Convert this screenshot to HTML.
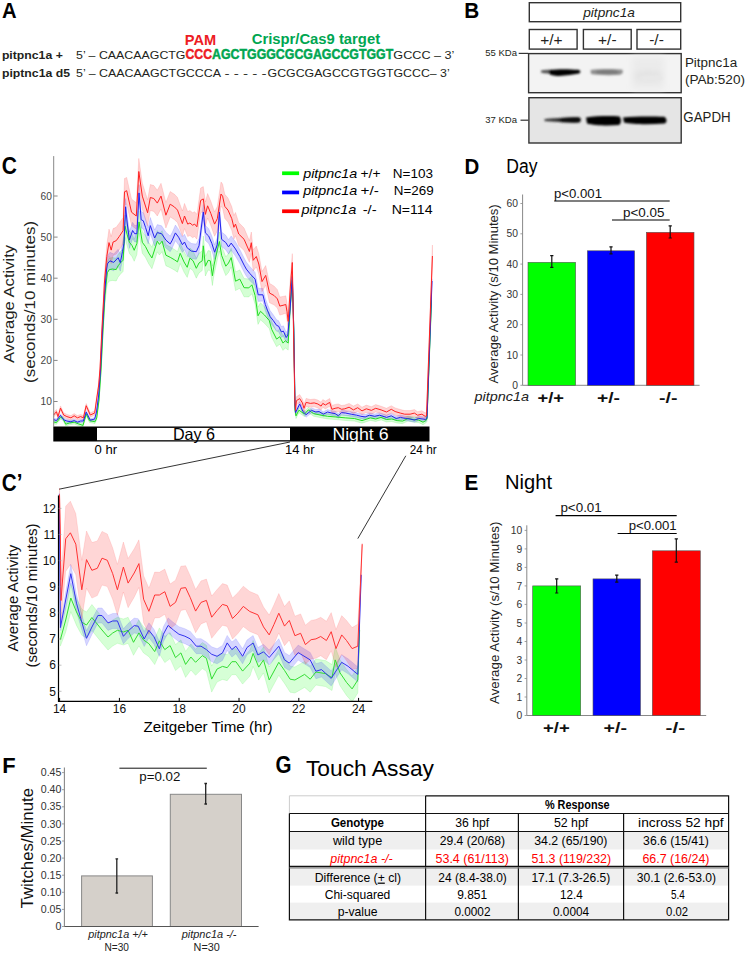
<!DOCTYPE html>
<html><head><meta charset="utf-8">
<style>
html,body{margin:0;padding:0;background:#fff;}
body{width:745px;height:955px;overflow:hidden;position:relative;}
svg{position:absolute;left:0;top:0;}
text{font-family:"Liberation Sans",sans-serif;}
</style></head><body>
<svg width="745" height="955" viewBox="0 0 745 955">
<defs>
<filter id="blur1" x="-20%" y="-100%" width="140%" height="300%"><feGaussianBlur stdDeviation="1.1"/></filter>
<filter id="blur3" x="-50%" y="-50%" width="200%" height="200%"><feGaussianBlur stdDeviation="3"/></filter>
<filter id="blur2" x="-20%" y="-100%" width="140%" height="300%"><feGaussianBlur stdDeviation="1.25"/></filter>
</defs>
<text x="2.1" y="17.7" font-size="21.80" fill="#000" font-weight="bold" textLength="14.6" lengthAdjust="spacingAndGlyphs">A</text>
<text x="184.8" y="44.9" font-size="15.00" fill="#ed1c24" font-weight="bold" textLength="31.4" lengthAdjust="spacingAndGlyphs">PAM</text>
<text x="251.7" y="43.5" font-size="14.00" fill="#00a651" font-weight="bold" textLength="128.4" lengthAdjust="spacingAndGlyphs">Crispr/Cas9 target</text>
<text x="1.9" y="58.5" font-size="11.50" fill="#231f20" font-weight="bold" textLength="60.9" lengthAdjust="spacingAndGlyphs">pitpnc1a +</text>
<text x="76.0" y="58.7" font-size="11.30" fill="#231f20" textLength="109.5" lengthAdjust="spacingAndGlyphs">5’ – CAACAAGCTG</text>
<text x="185.5" y="58.9" font-size="13.80" fill="#ed1c24" font-weight="bold" textLength="26.5" lengthAdjust="spacingAndGlyphs" stroke="#ed1c24" stroke-width="0.45">CCC</text>
<text x="212.0" y="58.9" font-size="13.80" fill="#00a651" font-weight="bold" textLength="181.3" lengthAdjust="spacingAndGlyphs" stroke="#00a651" stroke-width="0.45">AGCTGGGCGCGAGCCGTGGT</text>
<text x="393.3" y="58.7" font-size="11.30" fill="#231f20" textLength="61.1" lengthAdjust="spacingAndGlyphs">GCCC – 3’</text>
<text x="1.9" y="76.5" font-size="11.50" fill="#231f20" font-weight="bold" textLength="68.1" lengthAdjust="spacingAndGlyphs">piptnc1a d5</text>
<text x="76.0" y="76.6" font-size="11.30" fill="#231f20" textLength="145.0" lengthAdjust="spacingAndGlyphs">5’ – CAACAAGCTGCCCA</text>
<text x="224.4" y="76.6" font-size="11.30" fill="#231f20" textLength="42.3" lengthAdjust="spacingAndGlyphs">- - - - -</text>
<text x="267.6" y="76.6" font-size="11.30" fill="#231f20" textLength="182.1" lengthAdjust="spacingAndGlyphs">GCGCGAGCCGTGGTGCCC– 3’</text>
<text x="464.2" y="17.8" font-size="21.60" fill="#000" font-weight="bold" textLength="15.0" lengthAdjust="spacingAndGlyphs">B</text>
<g fill="#fff" stroke="#333" stroke-width="1.4">
<rect x="529.3" y="2.7" width="151.4" height="19"/>
<rect x="529.3" y="29.5" width="47.8" height="19.6"/>
<rect x="583.4" y="29.5" width="47.8" height="19.6"/>
<rect x="637" y="29.5" width="43.7" height="19.6"/>
</g>
<text x="583.2" y="16.8" font-size="13.50" fill="#231f20" font-style="italic" textLength="51.7" lengthAdjust="spacingAndGlyphs">pitpnc1a</text>
<text x="551.4" y="44.7" font-size="15.50" fill="#231f20" text-anchor="middle">+/+</text>
<text x="607.3" y="44.7" font-size="15.50" fill="#231f20" text-anchor="middle">+/-</text>
<text x="656.5" y="44.7" font-size="15.50" fill="#231f20" text-anchor="middle">-/-</text>
<rect x="528.6" y="53.6" width="152.6" height="39.1" fill="#f3f3f3" stroke="#333" stroke-width="1.4"/>
<g filter="url(#blur3)"><rect x="632" y="57" width="32" height="32" fill="#ebebeb"/><ellipse cx="648" cy="76" rx="15" ry="5" fill="#e2e2e2"/></g>
<g filter="url(#blur1)">
<path d="M541,70.5 C545,69.5 549,69.5 552,70 L552,73.5 C548,73.8 544,73.5 541,72.5Z" fill="#555"/>
<path d="M549,70 C558,68.8 570,69 578,69.8 C581,70.5 581,72.5 579,73.5 C573,74.5 566,75.5 559,76 C554,76 550,75 549,73.5Z" fill="#000"/>
<path d="M590.5,70 C600,68.6 614,68.6 622,69.6 C623.5,71.5 623,74 620,74.8 C610,75.4 598,75.2 591,74Z" fill="#8f8f8f"/>
<path d="M596,70.8 C604,70.2 612,70.2 618,70.8 L618,73.6 C610,74 603,74 596,73.6Z" fill="#7a7a7a"/>
<ellipse cx="651" cy="78" rx="12" ry="3" fill="#e8e8e8"/>
</g>
<line x1="518.7" y1="53.4" x2="528" y2="53.4" stroke="#333" stroke-width="1.2"/>
<text x="517.0" y="56.3" font-size="9.50" fill="#231f20" text-anchor="end">55 KDa</text>
<rect x="528.9" y="97.7" width="152.3" height="45.3" fill="#e5e5e5" stroke="#333" stroke-width="1.4"/>
<g filter="url(#blur2)">
<path d="M544.5,119.2 C552,118.5 565,117.3 578,117.3 C581.5,118 581.5,121.5 579,122.6 C568,123 555,121.8 544.5,121Z" fill="#333"/>
<path d="M560,118.3 C568,117.5 575,117.2 579,117.3 C581.5,118 581.5,121.5 579,122.6 C572,122.8 565,122.3 560,122Z" fill="#111"/>
<path d="M586,117.5 C597,115.8 612,115.8 619.5,116.5 C621.5,119 621.5,123 619,125 C608,126 594,125.5 587,123.5Z" fill="#000"/>
<path d="M623,117.5 C635,116.2 652,116.3 664,116.8 C667,118 667.5,122.5 664.5,123.5 C650,124.5 633,124.5 624,122.5Z" fill="#000"/>
</g>
<line x1="520.5" y1="120.2" x2="528.4" y2="120.2" stroke="#333" stroke-width="1.2"/>
<text x="517.0" y="122.9" font-size="9.50" fill="#231f20" text-anchor="end">37 KDa</text>
<text x="684.9" y="66.8" font-size="13.70" fill="#231f20" textLength="52.3" lengthAdjust="spacingAndGlyphs">Pitpnc1a</text>
<text x="684.9" y="83.8" font-size="13.70" fill="#231f20" textLength="60.1" lengthAdjust="spacingAndGlyphs">(PAb:520)</text>
<text x="683.3" y="122.0" font-size="13.80" fill="#231f20" textLength="47.3" lengthAdjust="spacingAndGlyphs">GAPDH</text>
<text x="1.8" y="173.9" font-size="23.00" fill="#000" font-weight="bold" textLength="15.2" lengthAdjust="spacingAndGlyphs">C</text>
<g stroke="none">
<path d="M53.6,420.2 L56.4,420.8 L60.5,415.6 L62.9,416.4 L65.7,422.4 L69.3,421.2 L74.2,420.4 L78.2,422.0 L83.0,423.6 L86.2,412.3 L89.4,418.8 L95.0,420.0 L96.7,416.2 L99.0,398.2 L101.0,367.0 L103.0,324.6 L105.0,287.1 L106.5,270.3 L107.4,261.9 L109.3,258.1 L112.4,257.6 L116.2,258.2 L118.1,254.5 L120.6,251.4 L123.1,249.0 L125.0,215.0 L127.2,223.6 L129.4,231.2 L132.0,234.4 L134.2,239.3 L136.9,232.4 L139.0,210.9 L142.3,231.4 L145.5,235.8 L148.7,242.2 L151.9,247.3 L154.5,239.3 L157.3,230.6 L159.4,233.8 L162.1,230.7 L165.9,244.7 L170.2,246.9 L174.3,249.4 L177.5,251.6 L180.2,243.1 L184.0,251.7 L187.2,257.2 L189.9,248.0 L193.1,250.8 L196.3,258.4 L199.0,253.1 L202.2,251.0 L203.3,236.0 L205.4,256.4 L208.1,250.6 L210.3,251.1 L212.4,266.1 L214.0,255.5 L217.3,240.5 L219.4,232.0 L221.6,245.9 L225.8,256.8 L228.5,253.6 L231.2,248.3 L235.5,271.9 L239.8,269.9 L244.1,278.6 L248.8,278.9 L251.9,275.9 L255.1,286.8 L258.0,307.2 L260.5,302.8 L264.5,306.7 L269.3,312.6 L271.7,321.5 L276.6,331.5 L279.8,329.2 L283.0,335.8 L285.4,333.5 L288.2,336.1 L290.0,303.3 L292.3,274.6 L293.8,327.6 L295.0,407.7 L296.0,413.3 L298.9,407.6 L304.5,411.4 L308.3,407.3 L313.6,411.0 L321.1,412.6 L327.6,413.7 L335.1,414.3 L345.8,415.3 L354.4,415.9 L362.0,418.0 L370.4,415.4 L375.7,416.5 L381.1,414.9 L386.5,417.0 L391.8,416.5 L397.2,418.1 L402.6,418.6 L408.0,416.0 L413.3,417.0 L418.7,417.6 L423.0,419.7 L425.7,418.1 L427.0,416.5 L431.5,297.5 L431.5,302.5 L427.0,421.5 L425.7,423.1 L423.0,424.7 L418.7,422.6 L413.3,422.0 L408.0,421.0 L402.6,423.6 L397.2,423.1 L391.8,421.5 L386.5,422.0 L381.1,419.9 L375.7,421.5 L370.4,420.4 L362.0,423.2 L354.4,421.1 L345.8,420.5 L335.1,419.5 L327.6,418.9 L321.1,417.8 L313.6,416.2 L308.3,412.5 L304.5,416.6 L298.9,412.8 L296.0,418.5 L295.0,412.3 L293.8,332.4 L292.3,285.4 L290.0,316.7 L288.2,350.1 L285.4,347.9 L283.0,350.4 L279.8,344.2 L276.6,346.7 L271.7,337.3 L269.3,328.6 L264.5,323.3 L260.5,319.8 L258.0,324.4 L255.1,304.2 L251.9,293.7 L248.8,296.9 L244.1,296.8 L239.8,288.3 L235.5,290.5 L231.2,266.9 L228.5,272.4 L225.8,275.6 L221.6,264.9 L219.4,251.0 L217.3,259.7 L214.0,274.7 L212.4,285.5 L210.3,270.5 L208.1,270.0 L205.4,276.0 L203.3,255.6 L202.2,270.6 L199.0,272.9 L196.3,278.2 L193.1,270.8 L189.9,268.2 L187.2,277.4 L184.0,272.1 L180.2,263.5 L177.5,272.2 L174.3,270.0 L170.2,267.7 L165.9,265.7 L162.1,251.7 L159.4,255.0 L157.3,251.8 L154.5,260.7 L151.9,268.7 L148.7,263.8 L145.5,257.4 L142.3,253.2 L139.0,232.9 L136.9,254.4 L134.2,261.3 L132.0,256.6 L129.4,253.4 L127.2,246.0 L125.0,237.4 L123.1,271.4 L120.6,274.0 L118.1,277.1 L116.2,281.0 L112.4,280.4 L109.3,281.1 L107.4,283.5 L106.5,289.7 L105.0,302.9 L103.0,335.4 L101.0,373.0 L99.0,401.8 L96.7,419.8 L95.0,423.6 L89.4,422.4 L86.2,415.9 L83.0,427.2 L78.2,425.6 L74.2,424.0 L69.3,424.8 L65.7,426.0 L62.9,420.0 L60.5,419.2 L56.4,424.4 L53.6,423.8Z" fill="#00ff00" fill-opacity="0.17" stroke="#00dd00" stroke-opacity="0.18" stroke-width="0.8"/>
<path d="M53.6,418.0 L56.4,419.1 L60.5,413.9 L63.7,418.3 L66.9,419.5 L70.9,420.3 L74.2,419.1 L77.4,420.7 L80.6,419.5 L83.4,419.5 L86.2,410.6 L90.3,418.7 L94.7,417.5 L96.5,410.5 L98.7,393.5 L100.5,368.1 L102.5,326.3 L104.5,289.6 L106.5,262.8 L107.4,255.9 L109.9,252.3 L113.7,254.0 L118.1,249.3 L120.3,254.3 L122.5,243.1 L124.0,235.1 L125.6,198.5 L127.2,214.7 L129.4,231.8 L132.6,222.3 L134.7,225.5 L136.9,225.5 L139.0,184.7 L141.2,211.6 L143.3,212.7 L145.5,219.2 L148.2,227.7 L150.3,217.5 L154.6,230.0 L157.3,224.6 L161.6,225.8 L165.9,232.2 L170.2,236.1 L172.3,232.3 L175.4,225.1 L178.6,229.4 L182.4,237.0 L184.5,234.3 L187.2,240.2 L191.5,243.5 L196.3,244.1 L199.0,238.3 L203.3,204.5 L205.4,225.4 L208.7,228.7 L211.9,236.2 L214.6,244.8 L217.3,237.4 L219.4,204.7 L221.6,232.0 L225.8,235.3 L228.5,239.7 L231.2,235.9 L235.5,241.8 L239.8,249.4 L244.1,258.0 L246.3,262.1 L250.0,266.7 L255.1,272.4 L258.2,288.2 L262.9,288.5 L265.3,298.3 L267.7,304.8 L270.1,310.6 L273.3,314.8 L276.6,319.8 L278.6,320.7 L281.4,326.5 L283.4,325.8 L286.2,332.4 L287.8,330.0 L290.0,305.0 L292.3,271.9 L293.8,327.7 L295.0,402.8 L295.5,410.2 L299.7,401.5 L302.9,409.0 L306.1,412.2 L311.5,407.9 L315.8,409.5 L319.0,409.1 L323.3,411.8 L327.6,409.6 L331.9,410.7 L335.1,411.2 L338.3,413.4 L341.6,410.2 L345.8,410.7 L351.2,411.8 L356.6,412.8 L360.9,413.9 L365.2,414.6 L369.3,412.9 L374.7,414.0 L379.5,412.9 L386.5,415.1 L391.3,413.5 L396.1,416.2 L400.4,415.1 L405.8,416.2 L410.1,416.8 L414.4,417.9 L418.7,416.3 L423.0,416.8 L425.7,417.3 L427.0,415.8 L432.0,278.8 L432.0,283.2 L427.0,420.2 L425.7,421.7 L423.0,421.2 L418.7,420.7 L414.4,422.3 L410.1,421.2 L405.8,420.8 L400.4,419.7 L396.1,420.8 L391.3,418.1 L386.5,419.7 L379.5,417.5 L374.7,418.6 L369.3,417.5 L365.2,419.2 L360.9,418.7 L356.6,417.6 L351.2,416.6 L345.8,415.5 L341.6,415.0 L338.3,418.2 L335.1,416.0 L331.9,415.5 L327.6,414.4 L323.3,416.6 L319.0,413.9 L315.8,414.5 L311.5,412.9 L306.1,417.2 L302.9,414.0 L299.7,406.5 L295.5,415.0 L295.0,407.2 L293.8,332.3 L292.3,280.9 L290.0,315.0 L287.8,340.2 L286.2,342.6 L283.4,336.4 L281.4,337.3 L278.6,331.7 L276.6,331.0 L273.3,326.4 L270.1,322.6 L267.7,317.0 L265.3,310.7 L262.9,301.1 L258.2,301.4 L255.1,285.8 L250.0,280.7 L246.3,276.1 L244.1,272.2 L239.8,263.6 L235.5,256.2 L231.2,250.3 L228.5,254.1 L225.8,249.9 L221.6,246.6 L219.4,219.3 L217.3,252.0 L214.6,259.6 L211.9,251.0 L208.7,243.5 L205.4,240.4 L203.3,219.5 L199.0,253.3 L196.3,259.3 L191.5,258.7 L187.2,255.6 L184.5,249.7 L182.4,252.4 L178.6,245.0 L175.4,240.7 L172.3,247.9 L170.2,251.7 L165.9,248.0 L161.6,241.6 L157.3,240.6 L154.6,246.0 L150.3,233.7 L148.2,243.9 L145.5,235.4 L143.3,228.9 L141.2,227.8 L139.0,201.1 L136.9,241.9 L134.7,241.9 L132.6,238.7 L129.4,248.4 L127.2,231.3 L125.6,215.1 L124.0,251.7 L122.5,259.7 L120.3,271.1 L118.1,266.1 L113.7,270.8 L109.9,269.3 L107.4,271.9 L106.5,277.2 L104.5,300.4 L102.5,333.7 L100.5,371.9 L98.7,396.5 L96.5,413.5 L94.7,420.5 L90.3,421.7 L86.2,413.6 L83.4,422.5 L80.6,422.5 L77.4,423.7 L74.2,422.1 L70.9,423.3 L66.9,422.5 L63.7,421.3 L60.5,416.9 L56.4,422.1 L53.6,421.0Z" fill="#0000ff" fill-opacity="0.17" stroke="#0000ff" stroke-opacity="0.15" stroke-width="0.8"/>
<path d="M53.6,412.8 L56.4,409.5 L58.0,414.4 L60.5,405.9 L63.7,412.8 L66.9,414.4 L70.9,415.6 L74.2,413.6 L77.4,415.6 L80.6,414.4 L83.4,415.6 L86.2,403.5 L90.3,412.8 L94.7,410.8 L96.5,397.8 L98.7,382.8 L100.0,366.8 L101.9,325.1 L103.9,286.3 L104.3,275.7 L106.8,244.6 L109.0,229.1 L111.2,236.6 L113.1,228.6 L116.2,227.3 L119.4,222.9 L123.1,217.4 L124.5,178.5 L126.7,177.4 L131.5,199.0 L136.3,202.8 L138.8,158.4 L142.3,183.0 L147.6,199.8 L150.3,184.5 L153.8,185.6 L157.3,190.2 L161.0,183.3 L165.9,202.4 L170.2,191.5 L174.5,194.3 L177.5,197.5 L182.4,211.0 L184.5,203.4 L187.7,211.6 L189.9,210.5 L192.6,212.7 L194.7,211.7 L196.9,214.4 L200.6,188.1 L203.3,186.6 L205.4,202.1 L207.6,193.5 L210.8,201.2 L214.6,211.9 L217.3,206.5 L221.0,181.9 L222.6,184.1 L224.8,194.3 L228.0,198.1 L231.8,206.8 L233.9,215.5 L235.5,212.4 L238.7,222.5 L244.1,228.1 L249.4,240.7 L251.3,232.0 L253.2,249.7 L256.3,246.1 L258.8,253.7 L262.0,271.5 L265.7,265.5 L269.5,283.3 L274.2,286.2 L277.4,289.7 L279.8,297.1 L283.0,296.4 L285.8,295.8 L287.0,303.1 L288.2,312.9 L290.5,275.8 L292.3,253.6 L293.5,325.2 L294.8,396.6 L295.5,406.6 L296.4,396.7 L299.7,394.6 L302.4,398.9 L304.0,404.3 L306.1,398.4 L310.4,399.5 L314.2,399.0 L317.9,400.1 L321.1,402.2 L322.8,399.5 L325.4,401.1 L329.7,398.5 L331.9,405.4 L335.1,404.4 L338.3,403.9 L341.6,405.5 L344.8,405.0 L349.1,403.4 L353.4,406.1 L357.7,403.9 L362.0,407.2 L366.3,405.1 L371.4,406.7 L375.7,404.6 L381.1,406.2 L386.5,408.3 L391.3,405.7 L395.1,407.9 L400.4,409.5 L404.7,410.6 L410.1,410.6 L414.4,409.6 L417.6,411.7 L421.9,410.7 L425.1,412.8 L426.5,412.5 L432.4,245.0 L432.4,267.0 L426.5,419.5 L425.1,419.8 L421.9,417.7 L417.6,418.7 L414.4,416.6 L410.1,417.8 L404.7,417.8 L400.4,416.7 L395.1,415.1 L391.3,412.9 L386.5,415.7 L381.1,413.6 L375.7,412.0 L371.4,414.1 L366.3,412.5 L362.0,414.6 L357.7,411.5 L353.4,413.7 L349.1,411.0 L344.8,412.6 L341.6,413.1 L338.3,411.5 L335.1,412.2 L331.9,413.2 L329.7,406.3 L325.4,408.9 L322.8,407.3 L321.1,410.0 L317.9,407.9 L314.2,406.8 L310.4,407.3 L306.1,406.4 L304.0,412.3 L302.4,406.9 L299.7,402.6 L296.4,404.7 L295.5,414.1 L294.8,403.4 L293.5,334.8 L292.3,271.4 L290.5,294.2 L288.2,329.9 L287.0,320.3 L285.8,313.2 L283.0,314.2 L279.8,315.1 L277.4,308.1 L274.2,305.0 L269.5,302.7 L265.7,285.3 L262.0,291.7 L258.8,274.3 L256.3,266.9 L253.2,270.9 L251.3,253.4 L249.4,262.3 L244.1,250.5 L238.7,245.5 L235.5,235.8 L233.9,239.1 L231.8,230.6 L228.0,222.1 L224.8,218.5 L222.6,208.3 L221.0,206.1 L217.3,230.9 L214.6,236.3 L210.8,225.6 L207.6,218.1 L205.4,226.7 L203.3,211.2 L200.6,212.9 L196.9,239.2 L194.7,236.5 L192.6,237.7 L189.9,235.5 L187.7,236.6 L184.5,228.6 L182.4,236.2 L177.5,222.7 L174.5,219.7 L170.2,216.9 L165.9,228.0 L161.0,208.9 L157.3,216.0 L153.8,211.4 L150.3,210.5 L147.6,225.8 L142.3,209.2 L138.8,184.6 L136.3,229.2 L131.5,225.4 L126.7,204.0 L124.5,205.1 L123.1,244.0 L119.4,249.7 L116.2,254.1 L113.1,255.4 L111.2,263.6 L109.0,256.1 L106.8,268.2 L104.3,292.3 L103.9,301.7 L101.9,334.9 L100.0,371.2 L98.7,387.2 L96.5,402.2 L94.7,415.2 L90.3,417.2 L86.2,407.9 L83.4,420.0 L80.6,418.8 L77.4,420.0 L74.2,418.0 L70.9,420.0 L66.9,418.8 L63.7,417.2 L60.5,410.3 L58.0,418.8 L56.4,413.9 L53.6,417.2Z" fill="#ff0000" fill-opacity="0.17" stroke="#ff0000" stroke-opacity="0.15" stroke-width="0.8"/>
</g>
<g fill="none" stroke-width="1" stroke-linejoin="round">
<path d="M53.6,422.0 L56.4,422.6 L60.5,417.4 L62.9,418.2 L65.7,424.2 L69.3,423.0 L74.2,422.2 L78.2,423.8 L83.0,425.4 L86.2,414.1 L89.4,420.6 L95.0,421.8 L96.7,418.0 L99.0,400.0 L101.0,370.0 L103.0,330.0 L105.0,295.0 L106.5,280.0 L107.4,272.7 L109.3,269.6 L112.4,269.0 L116.2,269.6 L118.1,265.8 L120.6,262.7 L123.1,260.2 L125.0,226.2 L127.2,234.8 L129.4,242.3 L132.0,245.5 L134.2,250.3 L136.9,243.4 L139.0,221.9 L142.3,242.3 L145.5,246.6 L148.7,253.0 L151.9,258.0 L154.5,250.0 L157.3,241.2 L159.4,244.4 L162.1,241.2 L165.9,255.2 L170.2,257.3 L174.3,259.7 L177.5,261.9 L180.2,253.3 L184.0,261.9 L187.2,267.3 L189.9,258.1 L193.1,260.8 L196.3,268.3 L199.0,263.0 L202.2,260.8 L203.3,245.8 L205.4,266.2 L208.1,260.3 L210.3,260.8 L212.4,275.8 L214.0,265.1 L217.3,250.1 L219.4,241.5 L221.6,255.4 L225.8,266.2 L228.5,263.0 L231.2,257.6 L235.5,281.2 L239.8,279.1 L244.1,287.7 L248.8,287.9 L251.9,284.8 L255.1,295.5 L258.0,315.8 L260.5,311.3 L264.5,315.0 L269.3,320.6 L271.7,329.4 L276.6,339.1 L279.8,336.7 L283.0,343.1 L285.4,340.7 L288.2,343.1 L290.0,310.0 L292.3,280.0 L293.8,330.0 L295.0,410.0 L296.0,415.9 L298.9,410.2 L304.5,414.0 L308.3,409.9 L313.6,413.6 L321.1,415.2 L327.6,416.3 L335.1,416.9 L345.8,417.9 L354.4,418.5 L362.0,420.6 L370.4,417.9 L375.7,419.0 L381.1,417.4 L386.5,419.5 L391.8,419.0 L397.2,420.6 L402.6,421.1 L408.0,418.5 L413.3,419.5 L418.7,420.1 L423.0,422.2 L425.7,420.6 L427.0,419.0 L431.5,300.0" stroke="#22dd22"/>
<path d="M53.6,419.5 L56.4,420.6 L60.5,415.4 L63.7,419.8 L66.9,421.0 L70.9,421.8 L74.2,420.6 L77.4,422.2 L80.6,421.0 L83.4,421.0 L86.2,412.1 L90.3,420.2 L94.7,419.0 L96.5,412.0 L98.7,395.0 L100.5,370.0 L102.5,330.0 L104.5,295.0 L106.5,270.0 L107.4,263.9 L109.9,260.8 L113.7,262.4 L118.1,257.7 L120.3,262.7 L122.5,251.4 L124.0,243.4 L125.6,206.8 L127.2,223.0 L129.4,240.1 L132.6,230.5 L134.7,233.7 L136.9,233.7 L139.0,192.9 L141.2,219.7 L143.3,220.8 L145.5,227.3 L148.2,235.8 L150.3,225.6 L154.6,238.0 L157.3,232.6 L161.6,233.7 L165.9,240.1 L170.2,243.9 L172.3,240.1 L175.4,232.9 L178.6,237.2 L182.4,244.7 L184.5,242.0 L187.2,247.9 L191.5,251.1 L196.3,251.7 L199.0,245.8 L203.3,212.0 L205.4,232.9 L208.7,236.1 L211.9,243.6 L214.6,252.2 L217.3,244.7 L219.4,212.0 L221.6,239.3 L225.8,242.6 L228.5,246.9 L231.2,243.1 L235.5,249.0 L239.8,256.5 L244.1,265.1 L246.3,269.1 L250.0,273.7 L255.1,279.1 L258.2,294.8 L262.9,294.8 L265.3,304.5 L267.7,310.9 L270.1,316.6 L273.3,320.6 L276.6,325.4 L278.6,326.2 L281.4,331.9 L283.4,331.1 L286.2,337.5 L287.8,335.1 L290.0,310.0 L292.3,276.4 L293.8,330.0 L295.0,405.0 L295.5,412.6 L299.7,404.0 L302.9,411.5 L306.1,414.7 L311.5,410.4 L315.8,412.0 L319.0,411.5 L323.3,414.2 L327.6,412.0 L331.9,413.1 L335.1,413.6 L338.3,415.8 L341.6,412.6 L345.8,413.1 L351.2,414.2 L356.6,415.2 L360.9,416.3 L365.2,416.9 L369.3,415.2 L374.7,416.3 L379.5,415.2 L386.5,417.4 L391.3,415.8 L396.1,418.5 L400.4,417.4 L405.8,418.5 L410.1,419.0 L414.4,420.1 L418.7,418.5 L423.0,419.0 L425.7,419.5 L427.0,418.0 L432.0,281.0" stroke="#2222ee"/>
<path d="M53.6,415.0 L56.4,411.7 L58.0,416.6 L60.5,408.1 L63.7,415.0 L66.9,416.6 L70.9,417.8 L74.2,415.8 L77.4,417.8 L80.6,416.6 L83.4,417.8 L86.2,405.7 L90.3,415.0 L94.7,413.0 L96.5,400.0 L98.7,385.0 L100.0,369.0 L101.9,330.0 L103.9,294.0 L104.3,284.0 L106.8,256.4 L109.0,242.6 L111.2,250.1 L113.1,242.0 L116.2,240.7 L119.4,236.3 L123.1,230.7 L124.5,191.8 L126.7,190.7 L131.5,212.2 L136.3,216.0 L138.8,171.5 L142.3,196.1 L147.6,212.8 L150.3,197.5 L153.8,198.5 L157.3,203.1 L161.0,196.1 L165.9,215.2 L170.2,204.2 L174.5,207.0 L177.5,210.1 L182.4,223.6 L184.5,216.0 L187.7,224.1 L189.9,223.0 L192.6,225.2 L194.7,224.1 L196.9,226.8 L200.6,200.5 L203.3,198.9 L205.4,214.4 L207.6,205.8 L210.8,213.4 L214.6,224.1 L217.3,218.7 L221.0,194.0 L222.6,196.2 L224.8,206.4 L228.0,210.1 L231.8,218.7 L233.9,227.3 L235.5,224.1 L238.7,234.0 L244.1,239.3 L249.4,251.5 L251.3,242.7 L253.2,260.3 L256.3,256.5 L258.8,264.0 L262.0,281.6 L265.7,275.4 L269.5,293.0 L274.2,295.6 L277.4,298.9 L279.8,306.1 L283.0,305.3 L285.8,304.5 L287.0,311.7 L288.2,321.4 L290.5,285.0 L292.3,262.5 L293.5,330.0 L294.8,400.0 L295.5,410.4 L296.4,400.7 L299.7,398.6 L302.4,402.9 L304.0,408.3 L306.1,402.4 L310.4,403.4 L314.2,402.9 L317.9,404.0 L321.1,406.1 L322.8,403.4 L325.4,405.0 L329.7,402.4 L331.9,409.3 L335.1,408.3 L338.3,407.7 L341.6,409.3 L344.8,408.8 L349.1,407.2 L353.4,409.9 L357.7,407.7 L362.0,410.9 L366.3,408.8 L371.4,410.4 L375.7,408.3 L381.1,409.9 L386.5,412.0 L391.3,409.3 L395.1,411.5 L400.4,413.1 L404.7,414.2 L410.1,414.2 L414.4,413.1 L417.6,415.2 L421.9,414.2 L425.1,416.3 L426.5,416.0 L432.4,256.0" stroke="#ff2222"/>
</g>
<line x1="53.7" y1="156.1" x2="53.7" y2="426.5" stroke="#888" stroke-width="1"/>
<line x1="53.7" y1="401.5" x2="57.6" y2="401.5" stroke="#888" stroke-width="1"/>
<text x="51.9" y="405.1" font-size="10.20" fill="#444" text-anchor="end">10</text>
<line x1="53.7" y1="360.4" x2="57.6" y2="360.4" stroke="#888" stroke-width="1"/>
<text x="51.9" y="364.0" font-size="10.20" fill="#444" text-anchor="end">20</text>
<line x1="53.7" y1="319.3" x2="57.6" y2="319.3" stroke="#888" stroke-width="1"/>
<text x="51.9" y="322.9" font-size="10.20" fill="#444" text-anchor="end">30</text>
<line x1="53.7" y1="278.2" x2="57.6" y2="278.2" stroke="#888" stroke-width="1"/>
<text x="51.9" y="281.8" font-size="10.20" fill="#444" text-anchor="end">40</text>
<line x1="53.7" y1="237.1" x2="57.6" y2="237.1" stroke="#888" stroke-width="1"/>
<text x="51.9" y="240.7" font-size="10.20" fill="#444" text-anchor="end">50</text>
<line x1="53.7" y1="196.0" x2="57.6" y2="196.0" stroke="#888" stroke-width="1"/>
<text x="51.9" y="199.6" font-size="10.20" fill="#444" text-anchor="end">60</text>
<text transform="translate(14.3,363.0) rotate(-90)" x="0" y="0" font-size="15.00" fill="#231f20" textLength="118.2" lengthAdjust="spacingAndGlyphs">Average Activity</text>
<text transform="translate(34.8,382.9) rotate(-90)" x="0" y="0" font-size="15.00" fill="#231f20" textLength="162.0" lengthAdjust="spacingAndGlyphs">(seconds/10 minutes)</text>
<rect x="282.1" y="171.4" width="17" height="3.7" fill="#00ff00"/>
<rect x="282.1" y="190.6" width="17" height="3.7" fill="#0000ff"/>
<rect x="282.1" y="209.4" width="17" height="3.7" fill="#ff0000"/>
<text x="303.2" y="178.3" font-size="13.30" fill="#000" font-style="italic" textLength="54.1" lengthAdjust="spacingAndGlyphs">pitpnc1a</text>
<text x="360.5" y="178.3" font-size="13.30" fill="#000" textLength="20.0" lengthAdjust="spacingAndGlyphs">+/+</text>
<text x="392.8" y="178.3" font-size="13.30" fill="#000" textLength="40.2" lengthAdjust="spacingAndGlyphs">N=103</text>
<text x="303.2" y="195.4" font-size="13.30" fill="#000" font-style="italic" textLength="54.1" lengthAdjust="spacingAndGlyphs">pitpnc1a</text>
<text x="360.5" y="195.4" font-size="13.30" fill="#000" textLength="18.3" lengthAdjust="spacingAndGlyphs">+/-</text>
<text x="393.8" y="195.4" font-size="13.30" fill="#000" textLength="39.8" lengthAdjust="spacingAndGlyphs">N=269</text>
<text x="301.5" y="213.7" font-size="13.30" fill="#000" font-style="italic" textLength="54.8" lengthAdjust="spacingAndGlyphs">pitpnc1a</text>
<text x="362.7" y="213.7" font-size="13.30" fill="#000" textLength="14.0" lengthAdjust="spacingAndGlyphs">-/-</text>
<text x="391.7" y="213.7" font-size="13.30" fill="#000" textLength="40.8" lengthAdjust="spacingAndGlyphs">N=114</text>
<rect x="53.3" y="426.5" width="43.7" height="15" fill="#000"/>
<rect x="97" y="426.5" width="193" height="15" fill="#000"/><rect x="97" y="427.9" width="193" height="12.3" fill="#fff"/>
<rect x="290" y="426.5" width="139.5" height="15" fill="#000"/>
<text x="172.9" y="440.4" font-size="16.50" fill="#000" textLength="42.2" lengthAdjust="spacingAndGlyphs">Day 6</text>
<text x="332.4" y="440.4" font-size="16.50" fill="#fff" textLength="56.1" lengthAdjust="spacingAndGlyphs">Night 6</text>
<text x="94.6" y="454.3" font-size="13.00" fill="#000" textLength="22.5" lengthAdjust="spacingAndGlyphs">0 hr</text>
<text x="285.0" y="454.3" font-size="13.00" fill="#000" textLength="29.6" lengthAdjust="spacingAndGlyphs">14 hr</text>
<text x="409.8" y="454.1" font-size="13.00" fill="#000" textLength="26.8" lengthAdjust="spacingAndGlyphs">24 hr</text>
<line x1="59.1" y1="489.2" x2="290" y2="442" stroke="#000" stroke-width="0.8"/>
<line x1="357.8" y1="538.6" x2="405.8" y2="455.8" stroke="#000" stroke-width="0.8"/>
<text x="1.8" y="491.3" font-size="23.50" fill="#000" font-weight="bold" textLength="20.6" lengthAdjust="spacingAndGlyphs">C’</text>
<g stroke="none">
<path d="M60.4,633.1 L65.7,607.8 L70.8,584.3 L76.5,598.6 L81.8,609.2 L86.5,612.0 L91.9,604.5 L97.9,611.9 L102.0,617.0 L108.0,624.0 L112.7,620.0 L117.4,617.3 L123.4,619.0 L128.1,617.3 L133.5,629.3 L138.9,619.9 L143.6,627.0 L148.9,630.7 L154.7,638.6 L159.4,627.9 L164.8,636.6 L170.1,632.6 L175.5,644.6 L180.9,639.9 L185.6,651.4 L190.9,644.0 L195.6,649.3 L202.3,642.6 L206.4,645.3 L211.7,666.1 L217.1,656.0 L222.5,653.4 L227.2,654.7 L231.9,648.7 L235.9,648.7 L242.6,658.1 L250.0,650.0 L253.1,640.4 L258.7,654.1 L263.5,646.9 L269.2,667.0 L278.8,649.3 L284.5,657.4 L290.1,666.2 L294.9,667.0 L304.6,661.4 L310.2,666.2 L315.9,659.0 L325.5,660.6 L332.0,664.6 L335.2,646.9 L340.0,659.8 L346.5,669.4 L352.1,675.9 L357.8,667.0 L359.6,623.4 L359.6,636.6 L357.8,693.0 L352.1,701.9 L346.5,695.4 L340.0,685.8 L335.2,672.9 L332.0,690.6 L325.5,686.6 L315.9,685.0 L310.2,692.2 L304.6,687.4 L294.9,693.0 L290.1,692.2 L284.5,683.4 L278.8,675.3 L269.2,693.0 L263.5,672.9 L258.7,680.1 L253.1,666.4 L250.0,676.0 L242.6,684.1 L235.9,674.7 L231.9,674.7 L227.2,680.7 L222.5,679.4 L217.1,682.0 L211.7,692.1 L206.4,671.3 L202.3,668.6 L195.6,675.3 L190.9,670.0 L185.6,677.4 L180.9,665.9 L175.5,670.6 L170.1,658.6 L164.8,662.6 L159.4,653.9 L154.7,664.6 L148.9,656.7 L143.6,653.0 L138.9,645.9 L133.5,655.3 L128.1,643.3 L123.4,645.0 L117.4,643.3 L112.7,646.0 L108.0,650.0 L102.0,643.0 L97.9,637.9 L91.9,630.5 L86.5,638.0 L81.8,635.2 L76.5,625.4 L70.8,611.7 L65.7,632.2 L60.4,646.1Z" fill="#00ff00" fill-opacity="0.16" stroke="#00dd00" stroke-opacity="0.15" stroke-width="0.8"/>
<path d="M59.3,493.1 L59.8,557.8 L60.4,624.5 L65.7,591.9 L70.8,564.5 L76.5,594.6 L81.2,612.3 L86.5,630.8 L91.9,619.5 L97.9,608.0 L102.0,608.0 L108.0,615.4 L112.7,613.5 L117.4,613.4 L123.4,628.8 L128.1,623.5 L134.2,618.1 L138.2,618.7 L144.2,631.5 L148.9,622.8 L154.0,629.3 L159.4,641.4 L163.4,626.7 L168.1,617.9 L173.5,622.6 L178.9,626.7 L184.9,628.7 L190.3,631.4 L196.3,638.7 L201.0,638.7 L206.4,642.1 L211.7,646.8 L217.1,648.8 L222.5,645.4 L227.2,635.4 L231.9,642.1 L235.9,638.7 L242.6,648.8 L247.0,640.0 L253.1,635.5 L257.9,647.5 L263.5,644.3 L269.2,650.0 L278.8,638.7 L284.5,652.4 L289.3,655.6 L298.2,645.1 L310.2,652.4 L315.9,663.7 L321.5,662.1 L331.2,670.9 L341.7,654.8 L348.1,658.8 L357.8,666.9 L361.2,574.0 L361.2,576.0 L357.8,681.9 L348.1,673.8 L341.7,669.8 L331.2,685.9 L321.5,677.1 L315.9,678.7 L310.2,667.4 L298.2,660.1 L289.3,670.6 L284.5,667.4 L278.8,653.7 L269.2,665.0 L263.5,659.3 L257.9,662.5 L253.1,650.5 L247.0,655.0 L242.6,663.8 L235.9,653.7 L231.9,657.1 L227.2,650.4 L222.5,660.4 L217.1,663.8 L211.7,661.8 L206.4,657.1 L201.0,653.7 L196.3,653.7 L190.3,646.4 L184.9,643.7 L178.9,641.7 L173.5,637.6 L168.1,632.9 L163.4,641.7 L159.4,656.4 L154.0,644.3 L148.9,637.8 L144.2,646.5 L138.2,633.7 L134.2,633.1 L128.1,638.5 L123.4,643.8 L117.4,628.4 L112.7,628.5 L108.0,630.4 L102.0,623.0 L97.9,623.0 L91.9,634.5 L86.5,645.8 L81.2,627.7 L76.5,611.8 L70.8,582.9 L65.7,608.1 L60.4,630.7 L59.8,562.2 L59.3,495.9Z" fill="#0000ff" fill-opacity="0.16" stroke="#0000ff" stroke-opacity="0.13" stroke-width="0.8"/>
<path d="M59.5,488.0 L60.4,525.4 L61.0,580.5 L65.7,506.2 L70.4,501.2 L75.8,513.7 L81.8,560.4 L86.5,531.0 L91.9,542.5 L97.3,541.0 L102.0,531.4 L107.3,534.0 L112.7,547.9 L117.4,564.4 L123.4,542.0 L128.1,558.5 L134.2,548.8 L138.9,539.8 L143.6,575.7 L148.9,588.2 L154.7,572.1 L159.4,572.3 L164.8,569.1 L170.1,584.0 L175.5,580.2 L180.9,566.2 L185.6,565.7 L190.3,575.9 L195.6,589.5 L201.0,580.9 L206.4,579.1 L211.7,596.1 L217.1,589.5 L222.5,583.6 L227.2,585.1 L232.5,598.0 L237.9,592.7 L243.3,586.2 L249.8,591.5 L257.9,594.9 L263.5,607.0 L269.2,615.1 L274.0,604.7 L278.8,593.5 L284.5,606.5 L289.3,600.8 L294.9,616.2 L300.6,613.9 L305.4,625.2 L311.1,620.4 L315.9,619.6 L320.7,617.3 L326.4,621.3 L331.2,612.6 L336.0,629.6 L341.7,615.6 L346.5,620.4 L352.1,627.6 L357.8,624.2 L362.2,543.2 L362.2,545.2 L357.8,668.2 L352.1,669.6 L346.5,660.6 L341.7,654.2 L336.0,667.6 L331.2,650.8 L326.4,659.7 L320.7,655.7 L315.9,658.2 L311.1,659.0 L305.4,664.0 L300.6,652.7 L294.9,655.2 L289.3,640.0 L284.5,645.7 L278.8,632.9 L274.0,644.1 L269.2,654.7 L263.5,646.8 L257.9,634.7 L249.8,631.5 L243.3,626.6 L237.9,633.5 L232.5,639.0 L227.2,626.5 L222.5,625.2 L217.1,631.5 L211.7,638.3 L206.4,621.7 L201.0,623.9 L195.6,632.7 L190.3,619.5 L185.6,609.5 L180.9,610.4 L175.5,624.6 L170.1,628.8 L164.8,614.3 L159.4,617.7 L154.7,617.9 L148.9,634.4 L143.6,622.7 L138.9,587.4 L134.2,597.2 L128.1,607.7 L123.4,592.0 L117.4,615.2 L112.7,599.5 L107.3,586.6 L102.0,585.0 L97.3,595.6 L91.9,598.1 L86.5,588.2 L81.8,619.2 L75.8,574.7 L70.4,564.4 L65.7,571.4 L61.0,620.5 L60.4,554.6 L59.5,501.0Z" fill="#ff0000" fill-opacity="0.16" stroke="#ff0000" stroke-opacity="0.13" stroke-width="0.8"/>
</g>
<g fill="none" stroke-width="1" stroke-linejoin="round">
<path d="M60.4,639.6 L65.7,620.0 L70.8,598.0 L76.5,612.0 L81.8,622.2 L86.5,625.0 L91.9,617.5 L97.9,624.9 L102.0,630.0 L108.0,637.0 L112.7,633.0 L117.4,630.3 L123.4,632.0 L128.1,630.3 L133.5,642.3 L138.9,632.9 L143.6,640.0 L148.9,643.7 L154.7,651.6 L159.4,640.9 L164.8,649.6 L170.1,645.6 L175.5,657.6 L180.9,652.9 L185.6,664.4 L190.9,657.0 L195.6,662.3 L202.3,655.6 L206.4,658.3 L211.7,679.1 L217.1,669.0 L222.5,666.4 L227.2,667.7 L231.9,661.7 L235.9,661.7 L242.6,671.1 L250.0,663.0 L253.1,653.4 L258.7,667.1 L263.5,659.9 L269.2,680.0 L278.8,662.3 L284.5,670.4 L290.1,679.2 L294.9,680.0 L304.6,674.4 L310.2,679.2 L315.9,672.0 L325.5,673.6 L332.0,677.6 L335.2,659.9 L340.0,672.8 L346.5,682.4 L352.1,688.9 L357.8,680.0 L359.6,630.0" stroke="#33dd33"/>
<path d="M59.3,494.5 L59.8,560.0 L60.4,627.6 L65.7,600.0 L70.8,573.7 L76.5,603.2 L81.2,620.0 L86.5,638.3 L91.9,627.0 L97.9,615.5 L102.0,615.5 L108.0,622.9 L112.7,621.0 L117.4,620.9 L123.4,636.3 L128.1,631.0 L134.2,625.6 L138.2,626.2 L144.2,639.0 L148.9,630.3 L154.0,636.8 L159.4,648.9 L163.4,634.2 L168.1,625.4 L173.5,630.1 L178.9,634.2 L184.9,636.2 L190.3,638.9 L196.3,646.2 L201.0,646.2 L206.4,649.6 L211.7,654.3 L217.1,656.3 L222.5,652.9 L227.2,642.9 L231.9,649.6 L235.9,646.2 L242.6,656.3 L247.0,647.5 L253.1,643.0 L257.9,655.0 L263.5,651.8 L269.2,657.5 L278.8,646.2 L284.5,659.9 L289.3,663.1 L298.2,652.6 L310.2,659.9 L315.9,671.2 L321.5,669.6 L331.2,678.4 L341.7,662.3 L348.1,666.3 L357.8,674.4 L361.2,575.0" stroke="#3333ee"/>
<path d="M59.5,494.5 L60.4,540.0 L61.0,600.5 L65.7,538.8 L70.4,532.8 L75.8,544.2 L81.8,589.8 L86.5,559.6 L91.9,570.3 L97.3,568.3 L102.0,558.2 L107.3,560.3 L112.7,573.7 L117.4,589.8 L123.4,567.0 L128.1,583.1 L134.2,573.0 L138.9,563.6 L143.6,599.2 L148.9,611.3 L154.7,595.0 L159.4,595.0 L164.8,591.7 L170.1,606.4 L175.5,602.4 L180.9,588.3 L185.6,587.6 L190.3,597.7 L195.6,611.1 L201.0,602.4 L206.4,600.4 L211.7,617.2 L217.1,610.5 L222.5,604.4 L227.2,605.8 L232.5,618.5 L237.9,613.1 L243.3,606.4 L249.8,611.5 L257.9,614.8 L263.5,626.9 L269.2,634.9 L274.0,624.4 L278.8,613.2 L284.5,626.1 L289.3,620.4 L294.9,635.7 L300.6,633.3 L305.4,644.6 L311.1,639.7 L315.9,638.9 L320.7,636.5 L326.4,640.5 L331.2,631.7 L336.0,648.6 L341.7,634.9 L346.5,640.5 L352.1,648.6 L357.8,646.2 L362.2,544.2" stroke="#ff3333"/>
</g>
<path d="M58.5,495.5 L58.5,701.4 L372.3,701.4" fill="none" stroke="#000" stroke-width="1.2"/>
<line x1="58.5" y1="691.3" x2="61.5" y2="691.3" stroke="#999" stroke-width="0.6"/>
<text x="56.0" y="695.5" font-size="12.00" fill="#111" text-anchor="end">5</text>
<line x1="58.5" y1="665.2" x2="61.5" y2="665.2" stroke="#999" stroke-width="0.6"/>
<text x="56.0" y="669.4" font-size="12.00" fill="#111" text-anchor="end">6</text>
<line x1="58.5" y1="639.0" x2="61.5" y2="639.0" stroke="#999" stroke-width="0.6"/>
<text x="56.0" y="643.2" font-size="12.00" fill="#111" text-anchor="end">7</text>
<line x1="58.5" y1="612.9" x2="61.5" y2="612.9" stroke="#999" stroke-width="0.6"/>
<text x="56.0" y="617.1" font-size="12.00" fill="#111" text-anchor="end">8</text>
<line x1="58.5" y1="586.8" x2="61.5" y2="586.8" stroke="#999" stroke-width="0.6"/>
<text x="56.0" y="591.0" font-size="12.00" fill="#111" text-anchor="end">9</text>
<line x1="58.5" y1="560.7" x2="61.5" y2="560.7" stroke="#999" stroke-width="0.6"/>
<text x="56.0" y="564.9" font-size="12.00" fill="#111" text-anchor="end">10</text>
<line x1="58.5" y1="534.5" x2="61.5" y2="534.5" stroke="#999" stroke-width="0.6"/>
<text x="56.0" y="538.7" font-size="12.00" fill="#111" text-anchor="end">11</text>
<line x1="58.5" y1="508.4" x2="61.5" y2="508.4" stroke="#999" stroke-width="0.6"/>
<text x="56.0" y="512.6" font-size="12.00" fill="#111" text-anchor="end">12</text>
<line x1="59.6" y1="697.9" x2="59.6" y2="701.4" stroke="#000" stroke-width="1"/>
<text x="59.6" y="712.7" font-size="12.00" fill="#111" text-anchor="middle">14</text>
<line x1="119.4" y1="697.9" x2="119.4" y2="701.4" stroke="#000" stroke-width="1"/>
<text x="119.4" y="712.7" font-size="12.00" fill="#111" text-anchor="middle">16</text>
<line x1="179.2" y1="697.9" x2="179.2" y2="701.4" stroke="#000" stroke-width="1"/>
<text x="179.2" y="712.7" font-size="12.00" fill="#111" text-anchor="middle">18</text>
<line x1="239.0" y1="697.9" x2="239.0" y2="701.4" stroke="#000" stroke-width="1"/>
<text x="239.0" y="712.7" font-size="12.00" fill="#111" text-anchor="middle">20</text>
<line x1="298.8" y1="697.9" x2="298.8" y2="701.4" stroke="#000" stroke-width="1"/>
<text x="298.8" y="712.7" font-size="12.00" fill="#111" text-anchor="middle">22</text>
<line x1="358.6" y1="697.9" x2="358.6" y2="701.4" stroke="#000" stroke-width="1"/>
<text x="358.6" y="712.7" font-size="12.00" fill="#111" text-anchor="middle">24</text>
<text x="143.6" y="731.6" font-size="15.50" fill="#000" textLength="128.9" lengthAdjust="spacingAndGlyphs">Zeitgeber Time (hr)</text>
<text transform="translate(17.8,651.5) rotate(-90)" x="0" y="0" font-size="14.20" fill="#111" textLength="106.8" lengthAdjust="spacingAndGlyphs">Average Activity</text>
<text transform="translate(36.5,667.5) rotate(-90)" x="0" y="0" font-size="14.20" fill="#111" textLength="144.1" lengthAdjust="spacingAndGlyphs">(seconds/10 minutes)</text>
<text x="464.5" y="174.0" font-size="21.60" fill="#000" font-weight="bold" textLength="14.8" lengthAdjust="spacingAndGlyphs">D</text>
<text x="506.3" y="173.1" font-size="19.50" fill="#000" textLength="31.2" lengthAdjust="spacingAndGlyphs">Day</text>
<line x1="522.6" y1="194.5" x2="522.6" y2="385.3" stroke="#888" stroke-width="1"/>
<line x1="522.6" y1="385.3" x2="699.6" y2="385.3" stroke="#888" stroke-width="1"/>
<line x1="520.4" y1="385.3" x2="522.6" y2="385.3" stroke="#888" stroke-width="0.8"/>
<text x="518.0" y="388.9" font-size="10.30" fill="#333" text-anchor="end">0</text>
<line x1="520.4" y1="355.0" x2="522.6" y2="355.0" stroke="#888" stroke-width="0.8"/>
<text x="518.0" y="358.6" font-size="10.30" fill="#333" text-anchor="end">10</text>
<line x1="520.4" y1="324.7" x2="522.6" y2="324.7" stroke="#888" stroke-width="0.8"/>
<text x="518.0" y="328.3" font-size="10.30" fill="#333" text-anchor="end">20</text>
<line x1="520.4" y1="294.4" x2="522.6" y2="294.4" stroke="#888" stroke-width="0.8"/>
<text x="518.0" y="298.0" font-size="10.30" fill="#333" text-anchor="end">30</text>
<line x1="520.4" y1="264.1" x2="522.6" y2="264.1" stroke="#888" stroke-width="0.8"/>
<text x="518.0" y="267.7" font-size="10.30" fill="#333" text-anchor="end">40</text>
<line x1="520.4" y1="233.8" x2="522.6" y2="233.8" stroke="#888" stroke-width="0.8"/>
<text x="518.0" y="237.4" font-size="10.30" fill="#333" text-anchor="end">50</text>
<line x1="520.4" y1="203.5" x2="522.6" y2="203.5" stroke="#888" stroke-width="0.8"/>
<text x="518.0" y="207.1" font-size="10.30" fill="#333" text-anchor="end">60</text>
<rect x="528.0" y="262.3" width="47.6" height="123.0" fill="#00ff00" stroke="#555" stroke-width="0.6"/>
<path d="M551.8,255.6 L551.8,267.4 M550.2,255.6 L553.4,255.6 M550.2,267.4 L553.4,267.4" stroke="#111" stroke-width="1.2" fill="none"/>
<rect x="587.4" y="250.8" width="47.2" height="134.5" fill="#0000ff" stroke="#555" stroke-width="0.6"/>
<path d="M611.0,246.8 L611.0,253.8 M609.4,246.8 L612.6,246.8 M609.4,253.8 L612.6,253.8" stroke="#111" stroke-width="1.2" fill="none"/>
<rect x="646.4" y="232.3" width="47.6" height="153.0" fill="#ff0000" stroke="#555" stroke-width="0.6"/>
<path d="M670.2,225.9 L670.2,238.0 M668.6,225.9 L671.8,225.9 M668.6,238.0 L671.8,238.0" stroke="#111" stroke-width="1.2" fill="none"/>
<text transform="translate(497.6,383.5) rotate(-90)" x="0" y="0" font-size="12.80" fill="#222" textLength="179.2" lengthAdjust="spacingAndGlyphs">Average Activity (s/10 Minutes)</text>
<line x1="554.2" y1="201" x2="669.7" y2="201" stroke="#000" stroke-width="1.2"/>
<text x="554.0" y="197.5" font-size="12.20" fill="#111" textLength="48.0" lengthAdjust="spacingAndGlyphs">p&lt;0.001</text>
<line x1="612" y1="220" x2="669.7" y2="220" stroke="#000" stroke-width="1.2"/>
<text x="623.0" y="216.5" font-size="12.20" fill="#111" textLength="41.5" lengthAdjust="spacingAndGlyphs">p&lt;0.05</text>
<text x="474.4" y="401.0" font-size="12.60" fill="#222" font-style="italic" textLength="54.6" lengthAdjust="spacingAndGlyphs">pitpnc1a</text>
<text x="537.5" y="402.5" font-size="14.00" fill="#111" font-weight="bold" textLength="26.5" lengthAdjust="spacingAndGlyphs">+/+</text>
<text x="597.0" y="402.5" font-size="14.00" fill="#111" font-weight="bold" textLength="23.0" lengthAdjust="spacingAndGlyphs">+/-</text>
<text x="659.0" y="402.5" font-size="14.00" fill="#111" font-weight="bold" textLength="18.4" lengthAdjust="spacingAndGlyphs">-/-</text>
<text x="464.6" y="489.8" font-size="21.60" fill="#000" font-weight="bold" textLength="13.8" lengthAdjust="spacingAndGlyphs">E</text>
<text x="505.0" y="489.3" font-size="19.50" fill="#000" textLength="47.0" lengthAdjust="spacingAndGlyphs">Night</text>
<line x1="526.8" y1="525.3" x2="526.8" y2="715.5" stroke="#888" stroke-width="1"/>
<line x1="526.8" y1="715.5" x2="706.2" y2="715.5" stroke="#888" stroke-width="1"/>
<line x1="524.6" y1="715.5" x2="526.8" y2="715.5" stroke="#888" stroke-width="0.8"/>
<text x="522.2" y="719.1" font-size="10.30" fill="#333" text-anchor="end">0</text>
<line x1="524.6" y1="697.0" x2="526.8" y2="697.0" stroke="#888" stroke-width="0.8"/>
<text x="522.2" y="700.6" font-size="10.30" fill="#333" text-anchor="end">1</text>
<line x1="524.6" y1="678.5" x2="526.8" y2="678.5" stroke="#888" stroke-width="0.8"/>
<text x="522.2" y="682.1" font-size="10.30" fill="#333" text-anchor="end">2</text>
<line x1="524.6" y1="660.0" x2="526.8" y2="660.0" stroke="#888" stroke-width="0.8"/>
<text x="522.2" y="663.6" font-size="10.30" fill="#333" text-anchor="end">3</text>
<line x1="524.6" y1="641.5" x2="526.8" y2="641.5" stroke="#888" stroke-width="0.8"/>
<text x="522.2" y="645.1" font-size="10.30" fill="#333" text-anchor="end">4</text>
<line x1="524.6" y1="623.0" x2="526.8" y2="623.0" stroke="#888" stroke-width="0.8"/>
<text x="522.2" y="626.6" font-size="10.30" fill="#333" text-anchor="end">5</text>
<line x1="524.6" y1="604.4" x2="526.8" y2="604.4" stroke="#888" stroke-width="0.8"/>
<text x="522.2" y="608.0" font-size="10.30" fill="#333" text-anchor="end">6</text>
<line x1="524.6" y1="585.9" x2="526.8" y2="585.9" stroke="#888" stroke-width="0.8"/>
<text x="522.2" y="589.5" font-size="10.30" fill="#333" text-anchor="end">7</text>
<line x1="524.6" y1="567.4" x2="526.8" y2="567.4" stroke="#888" stroke-width="0.8"/>
<text x="522.2" y="571.0" font-size="10.30" fill="#333" text-anchor="end">8</text>
<line x1="524.6" y1="548.9" x2="526.8" y2="548.9" stroke="#888" stroke-width="0.8"/>
<text x="522.2" y="552.5" font-size="10.30" fill="#333" text-anchor="end">9</text>
<line x1="524.6" y1="530.4" x2="526.8" y2="530.4" stroke="#888" stroke-width="0.8"/>
<text x="522.2" y="534.0" font-size="10.30" fill="#333" text-anchor="end">10</text>
<rect x="532.7" y="585.9" width="48.0" height="129.6" fill="#00ff00" stroke="#555" stroke-width="0.6"/>
<path d="M556.7,578.9 L556.7,593.0 M555.1,578.9 L558.3,578.9 M555.1,593.0 L558.3,593.0" stroke="#111" stroke-width="1.2" fill="none"/>
<rect x="593.0" y="578.9" width="47.5" height="136.6" fill="#0000ff" stroke="#555" stroke-width="0.6"/>
<path d="M616.8,575.2 L616.8,582.2 M615.1,575.2 L618.4,575.2 M615.1,582.2 L618.4,582.2" stroke="#111" stroke-width="1.2" fill="none"/>
<rect x="652.3" y="550.8" width="48.0" height="164.7" fill="#ff0000" stroke="#555" stroke-width="0.6"/>
<path d="M676.3,538.9 L676.3,562.2 M674.7,538.9 L677.9,538.9 M674.7,562.2 L677.9,562.2" stroke="#111" stroke-width="1.2" fill="none"/>
<text transform="translate(498.7,704.0) rotate(-90)" x="0" y="0" font-size="12.80" fill="#222" textLength="182.4" lengthAdjust="spacingAndGlyphs">Average Activity (s/10 Minutes)</text>
<line x1="555.6" y1="515.6" x2="676.7" y2="515.6" stroke="#000" stroke-width="1.2"/>
<text x="560.4" y="511.5" font-size="12.20" fill="#111" textLength="41.4" lengthAdjust="spacingAndGlyphs">p&lt;0.01</text>
<line x1="617.6" y1="533.5" x2="676.7" y2="533.5" stroke="#000" stroke-width="1.2"/>
<text x="628.7" y="530.0" font-size="12.20" fill="#111" textLength="48.0" lengthAdjust="spacingAndGlyphs">p&lt;0.001</text>
<text x="543.0" y="732.5" font-size="14.00" fill="#111" font-weight="bold" textLength="26.7" lengthAdjust="spacingAndGlyphs">+/+</text>
<text x="603.6" y="732.5" font-size="14.00" fill="#111" font-weight="bold" textLength="23.3" lengthAdjust="spacingAndGlyphs">+/-</text>
<text x="665.6" y="732.5" font-size="14.00" fill="#111" font-weight="bold" textLength="19.6" lengthAdjust="spacingAndGlyphs">-/-</text>
<text x="2.3" y="772.8" font-size="21.50" fill="#000" font-weight="bold" textLength="13.4" lengthAdjust="spacingAndGlyphs">F</text>
<line x1="64.4" y1="767.5" x2="64.4" y2="926.5" stroke="#888" stroke-width="1.1"/>
<line x1="62" y1="926.5" x2="64.4" y2="926.5" stroke="#888" stroke-width="0.8"/>
<text x="61.4" y="930.1" font-size="10.60" fill="#333" text-anchor="end">0</text>
<line x1="62" y1="909.4" x2="64.4" y2="909.4" stroke="#888" stroke-width="0.8"/>
<text x="61.4" y="913.0" font-size="10.60" fill="#333" text-anchor="end">0.05</text>
<line x1="62" y1="892.3" x2="64.4" y2="892.3" stroke="#888" stroke-width="0.8"/>
<text x="61.4" y="895.9" font-size="10.60" fill="#333" text-anchor="end">0.10</text>
<line x1="62" y1="875.2" x2="64.4" y2="875.2" stroke="#888" stroke-width="0.8"/>
<text x="61.4" y="878.8" font-size="10.60" fill="#333" text-anchor="end">0.15</text>
<line x1="62" y1="858.1" x2="64.4" y2="858.1" stroke="#888" stroke-width="0.8"/>
<text x="61.4" y="861.7" font-size="10.60" fill="#333" text-anchor="end">0.20</text>
<line x1="62" y1="841.0" x2="64.4" y2="841.0" stroke="#888" stroke-width="0.8"/>
<text x="61.4" y="844.6" font-size="10.60" fill="#333" text-anchor="end">0.25</text>
<line x1="62" y1="823.9" x2="64.4" y2="823.9" stroke="#888" stroke-width="0.8"/>
<text x="61.4" y="827.5" font-size="10.60" fill="#333" text-anchor="end">0.30</text>
<line x1="62" y1="806.8" x2="64.4" y2="806.8" stroke="#888" stroke-width="0.8"/>
<text x="61.4" y="810.4" font-size="10.60" fill="#333" text-anchor="end">0.35</text>
<line x1="62" y1="789.7" x2="64.4" y2="789.7" stroke="#888" stroke-width="0.8"/>
<text x="61.4" y="793.3" font-size="10.60" fill="#333" text-anchor="end">0.40</text>
<line x1="62" y1="772.6" x2="64.4" y2="772.6" stroke="#888" stroke-width="0.8"/>
<text x="61.4" y="776.2" font-size="10.60" fill="#333" text-anchor="end">0.45</text>
<rect x="81.6" y="875.9" width="70.8" height="50.6" fill="#d5d0ca" stroke="#888" stroke-width="1"/>
<rect x="170.3" y="794.3" width="71.2" height="132.2" fill="#d5d0ca" stroke="#888" stroke-width="1"/>
<line x1="64.4" y1="926.5" x2="258.6" y2="926.5" stroke="#555" stroke-width="1.1"/>
<path d="M116.8,858.8 L116.8,893 M115.5,858.8 L118.1,858.8 M115.5,893 L118.1,893 M205.7,783.5 L205.7,804 M204.4,783.5 L207,783.5 M204.4,804 L207,804" stroke="#222" stroke-width="1.3" fill="none"/>
<line x1="119.4" y1="768.2" x2="206.8" y2="768.2" stroke="#111" stroke-width="1"/>
<text x="139.3" y="780.6" font-size="12.00" fill="#111" textLength="41.0" lengthAdjust="spacingAndGlyphs">p=0.02</text>
<text transform="translate(33.2,908.5) rotate(-90)" x="0" y="0" font-size="16.50" fill="#111" textLength="120.5" lengthAdjust="spacingAndGlyphs">Twitches/Minute</text>
<text x="88.3" y="938.2" font-size="11.30" fill="#222" font-style="italic" textLength="59.6" lengthAdjust="spacingAndGlyphs">pitpnc1a +/+</text>
<text x="104.5" y="951.3" font-size="11.30" fill="#222" textLength="24.4" lengthAdjust="spacingAndGlyphs">N=30</text>
<text x="181.7" y="938.2" font-size="11.30" fill="#222" font-style="italic" textLength="54.8" lengthAdjust="spacingAndGlyphs">pitpnc1a -/-</text>
<text x="193.6" y="951.3" font-size="11.30" fill="#222" textLength="26.2" lengthAdjust="spacingAndGlyphs">N=30</text>
<text x="275.4" y="773.2" font-size="23.50" fill="#000" font-weight="bold" textLength="16.0" lengthAdjust="spacingAndGlyphs">G</text>
<text x="305.9" y="775.9" font-size="22.50" fill="#000" textLength="128.1" lengthAdjust="spacingAndGlyphs">Touch Assay</text>
<rect x="289.4" y="831.6" width="439.2" height="17.9" fill="#efefef"/>
<rect x="289.4" y="868.2" width="439.2" height="17.4" fill="#efefef"/>
<rect x="289.4" y="902.6" width="439.2" height="17.2" fill="#efefef"/>
<line x1="289.4" y1="795.8" x2="425.6" y2="795.8" stroke="#ccc" stroke-width="1"/>
<line x1="289.4" y1="795.8" x2="289.4" y2="813.5" stroke="#ccc" stroke-width="1"/>
<g stroke="#111" stroke-width="1.2" fill="none">
<path d="M425.6,795.8 L728.6,795.8 L728.6,919.9 L289.4,919.9 L289.4,813.5"/>
<line x1="425.6" y1="795.8" x2="425.6" y2="919.9"/>
<line x1="518.4" y1="813.5" x2="518.4" y2="919.9"/>
<line x1="623.6" y1="813.5" x2="623.6" y2="919.9"/>
<line x1="289.4" y1="813.5" x2="728.6" y2="813.5"/>
<line x1="289.4" y1="831.5" x2="728.6" y2="831.5"/>
<line x1="289.4" y1="866.3" x2="728.6" y2="866.3"/>
</g>
<line x1="289.4" y1="867.9" x2="728.6" y2="867.9" stroke="#777" stroke-width="1.2"/>
<text x="330.9" y="827.2" font-size="12.20" fill="#000" font-weight="bold" textLength="53.1" lengthAdjust="spacingAndGlyphs">Genotype</text>
<text x="455.2" y="827.2" font-size="12.20" fill="#000" textLength="33.9" lengthAdjust="spacingAndGlyphs">36 hpf</text>
<text x="553.9" y="827.2" font-size="12.20" fill="#000" textLength="34.4" lengthAdjust="spacingAndGlyphs">52 hpf</text>
<text x="638.1" y="827.2" font-size="12.20" fill="#000" textLength="85.5" lengthAdjust="spacingAndGlyphs">incross 52 hpf</text>
<text x="332.9" y="845.2" font-size="12.20" fill="#000" textLength="49.3" lengthAdjust="spacingAndGlyphs">wild type</text>
<text x="439.7" y="845.2" font-size="12.20" fill="#000" textLength="65.4" lengthAdjust="spacingAndGlyphs">29.4 (20/68)</text>
<text x="534.2" y="845.2" font-size="12.20" fill="#000" textLength="73.3" lengthAdjust="spacingAndGlyphs">34.2 (65/190)</text>
<text x="643.1" y="845.2" font-size="12.20" fill="#000" textLength="65.8" lengthAdjust="spacingAndGlyphs">36.6 (15/41)</text>
<text x="330.3" y="862.6" font-size="12.20" fill="#ff0000" font-style="italic" textLength="62.4" lengthAdjust="spacingAndGlyphs">pitpnc1a -/-</text>
<text x="435.5" y="862.6" font-size="12.20" fill="#ff0000" textLength="73.3" lengthAdjust="spacingAndGlyphs">53.4 (61/113)</text>
<text x="531.4" y="862.6" font-size="12.20" fill="#ff0000" textLength="79.7" lengthAdjust="spacingAndGlyphs">51.3 (119/232)</text>
<text x="642.4" y="862.6" font-size="12.20" fill="#ff0000" textLength="67.1" lengthAdjust="spacingAndGlyphs">66.7 (16/24)</text>
<text x="314.8" y="881.6" font-size="12.20" fill="#000" textLength="86.3" lengthAdjust="spacingAndGlyphs">Difference (<tspan text-decoration="underline">+</tspan> cl)</text>
<text x="438.3" y="881.6" font-size="12.20" fill="#000" textLength="68.5" lengthAdjust="spacingAndGlyphs">24 (8.4-38.0)</text>
<text x="531.4" y="881.6" font-size="12.20" fill="#000" textLength="78.9" lengthAdjust="spacingAndGlyphs">17.1 (7.3-26.5)</text>
<text x="636.8" y="881.6" font-size="12.20" fill="#000" textLength="79.3" lengthAdjust="spacingAndGlyphs">30.1 (2.6-53.0)</text>
<text x="324.7" y="898.7" font-size="12.20" fill="#000" textLength="65.6" lengthAdjust="spacingAndGlyphs">Chi-squared</text>
<text x="457.2" y="898.7" font-size="12.20" fill="#000" textLength="29.9" lengthAdjust="spacingAndGlyphs">9.851</text>
<text x="560.1" y="898.7" font-size="12.20" fill="#000" textLength="22.8" lengthAdjust="spacingAndGlyphs">12.4</text>
<text x="671.0" y="898.7" font-size="12.20" fill="#000" textLength="13.8" lengthAdjust="spacingAndGlyphs">5.4</text>
<text x="337.7" y="915.8" font-size="12.20" fill="#000" textLength="39.9" lengthAdjust="spacingAndGlyphs">p-value</text>
<text x="454.4" y="915.8" font-size="12.20" fill="#000" textLength="36.1" lengthAdjust="spacingAndGlyphs">0.0002</text>
<text x="553.0" y="915.8" font-size="12.20" fill="#000" textLength="36.1" lengthAdjust="spacingAndGlyphs">0.0004</text>
<text x="666.1" y="915.8" font-size="12.20" fill="#000" textLength="22.0" lengthAdjust="spacingAndGlyphs">0.02</text>
<text x="544.9" y="809.2" font-size="12.20" fill="#000" font-weight="bold" textLength="64.8" lengthAdjust="spacingAndGlyphs">% Response</text>
</svg>
</body></html>
